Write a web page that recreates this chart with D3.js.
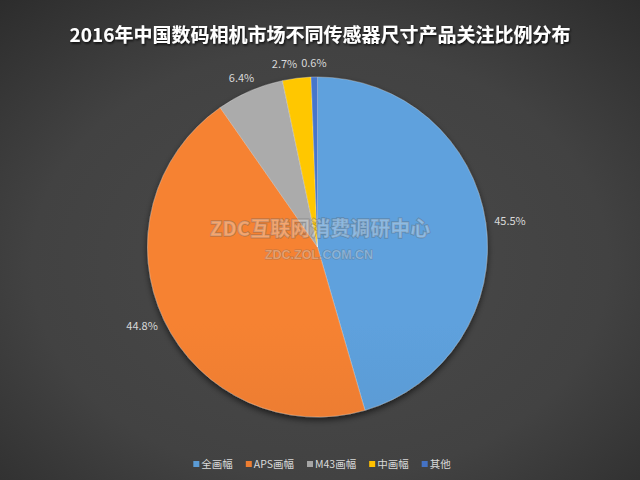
<!DOCTYPE html>
<html>
<head>
<meta charset="utf-8">
<script src="https://cdn.jsdelivr.net/npm/d3@7"></script>
<style>
  html, body { margin: 0; padding: 0; background: #3d3d3d; }
  svg { display: block; }
</style>
</head>
<body>
<svg id="chart" width="640" height="480"></svg>
<script>
const title = "2016年中国数码相机市场不同传感器尺寸产品关注比例分布";
const categories = ["全画幅", "APS画幅", "M43画幅", "中画幅", "其他"];
const values = [45.5, 44.8, 6.4, 2.7, 0.6];
const colors = ["#5b9bd5", "#ed7d31", "#a5a5a5", "#ffc000", "#4472c4"];
const watermark = ["ZDC互联网消费调研中心", "ZDC.ZOL.COM.CN"];

const W = 640, H = 480;
const cx = 317.5, cy = 247, R = 170;
const font = "'Noto Sans CJK SC', 'Microsoft YaHei', sans-serif";

const svg = d3.select("#chart");
const defs = svg.append("defs");

// background gradient
const bg = defs.append("radialGradient").attr("id", "bg")
  .attr("cx", "50%").attr("cy", "55%").attr("r", "75%");
bg.append("stop").attr("offset", "0%").attr("stop-color", "#4a4a4a");
bg.append("stop").attr("offset", "60%").attr("stop-color", "#424242");
bg.append("stop").attr("offset", "100%").attr("stop-color", "#2c2c2c");
svg.append("rect").attr("width", W).attr("height", H).attr("fill", "url(#bg)");

// title shadow filter
const tf = defs.append("filter").attr("id", "tshadow").attr("x", "-5%").attr("y", "-50%").attr("width", "110%").attr("height", "200%");
tf.append("feDropShadow").attr("dx", 1).attr("dy", 1.5).attr("stdDeviation", 1)
  .attr("flood-color", "#000").attr("flood-opacity", 0.8);

// pie shadow
const pf = defs.append("filter").attr("id", "pshadow").attr("x", "-20%").attr("y", "-20%").attr("width", "140%").attr("height", "140%");
pf.append("feDropShadow").attr("dx", 0).attr("dy", 3).attr("stdDeviation", 3)
  .attr("flood-color", "#000").attr("flood-opacity", 0.6);

// slice gradients
colors.forEach((c, i) => {
  const g = defs.append("linearGradient").attr("id", "sg" + i)
    .attr("gradientUnits", "userSpaceOnUse")
    .attr("x1", cx).attr("y1", cy - R).attr("x2", cx).attr("y2", cy + R);
  g.append("stop").attr("offset", "0%").attr("stop-color", d3.color(c).brighter(0.1));
  g.append("stop").attr("offset", "100%").attr("stop-color", d3.color(c).darker(0.3));
});

// title
svg.append("text")
  .attr("x", 320).attr("y", 42)
  .attr("text-anchor", "middle")
  .attr("font-family", font)
  .attr("font-weight", "bold")
  .attr("font-size", 19)
  .attr("fill", "#ffffff")
  .attr("filter", "url(#tshadow)")
  .text(title);

// pie
const pie = d3.pie().sort(null).value(d => d)
  .startAngle(0).endAngle(2 * Math.PI);
const arcs = pie(values);
const arc = d3.arc().innerRadius(0).outerRadius(R);

const pg = svg.append("g").attr("transform", `translate(${cx},${cy})`);
pg.append("g").attr("filter", "url(#pshadow)")
  .selectAll("path").data(arcs).join("path")
  .attr("d", arc)
  .attr("fill", (d, i) => `url(#sg${i})`)
  .attr("stroke", "rgba(255,255,255,0.35)")
  .attr("stroke-width", 0.75);

// labels
const gap = 8.7;
const lg = svg.append("g");
const labels = [];
arcs.forEach((d, i) => {
  const a = (d.startAngle + d.endAngle) / 2;
  const s = Math.sin(a), c = Math.cos(a);
  const px = cx + (R + gap) * s, py = cy - (R + gap) * c;
  const t = lg.append("text")
    .attr("font-family", font)
    .attr("font-size", 11)
    .attr("fill", "#d9d9d9")
    .attr("text-anchor", "middle")
    .text(d3.format(".1f")(values[i]) + "%");
  const w = t.node().getComputedTextLength();
  const h = 11;
  labels.push({ t, w, h, x: px + (w / 2) * s, y: py - (h / 2) * c });
});
// resolve overlaps: push earlier label left of the following one
for (let i = labels.length - 2; i >= 0; i--) {
  const A = labels[i], B = labels[i + 1];
  const overlapY = Math.abs(A.y - B.y) < (A.h + B.h) / 2;
  const overlapX = (A.x + A.w / 2 + 4) > (B.x - B.w / 2);
  if (overlapY && overlapX && A.x <= B.x) {
    A.x = B.x - B.w / 2 - 4 - A.w / 2;
  }
}
labels.forEach(l => l.t.attr("x", l.x).attr("y", l.y + 4));

// watermark
const wm = svg.append("g").attr("text-anchor", "middle");
wm.append("text")
  .attr("x", 320).attr("y", 236)
  .attr("font-family", "'Noto Sans CJK SC', sans-serif")
  .attr("font-weight", 900)
  .attr("font-size", 20)
  .attr("fill", "rgba(255,255,255,0.28)")
  .attr("stroke", "rgba(90,90,90,0.35)")
  .attr("stroke-width", 1.4)
  .attr("paint-order", "stroke")
  .text(watermark[0]);
wm.append("text")
  .attr("x", 319).attr("y", 259)
  .attr("font-family", "'Liberation Sans', Arial, sans-serif")
  .attr("font-weight", "bold")
  .attr("font-size", 12.5)
  .attr("fill", "rgba(255,255,255,0.28)")
  .attr("stroke", "rgba(90,90,90,0.35)")
  .attr("stroke-width", 1)
  .attr("paint-order", "stroke")
  .text(watermark[1]);

// legend
const leg = svg.append("g");
const items = [];
categories.forEach((name, i) => {
  const g = leg.append("g");
  g.append("rect").attr("width", 6).attr("height", 6).attr("y", -3)
    .attr("fill", colors[i]);
  const t = g.append("text").attr("x", 8).attr("y", 4)
    .attr("font-family", font).attr("font-size", 10.5)
    .attr("fill", "#d9d9d9").text(name);
  items.push({ g, w: 8 + t.node().getComputedTextLength() });
});
const spacing = 13;
const total = d3.sum(items, d => d.w) + spacing * (items.length - 1);
let x0 = 322 - total / 2;
items.forEach(it => {
  it.g.attr("transform", `translate(${x0},464)`);
  x0 += it.w + spacing;
});
</script>
</body>
</html>
